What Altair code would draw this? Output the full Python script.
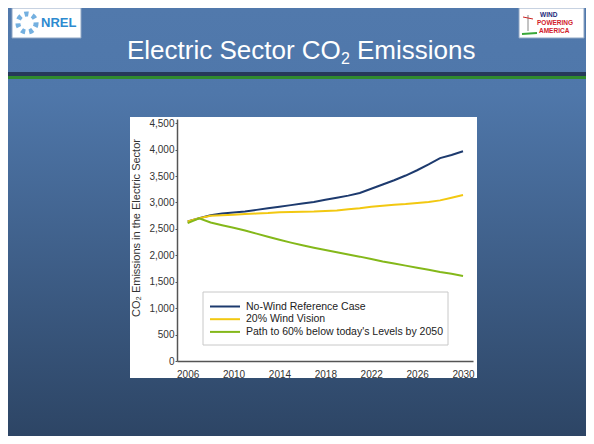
import altair as alt
import pandas as pd

# ---- data ----
years = list(range(2006, 2031))
no_wind = [2640, 2700, 2760, 2790, 2810, 2830, 2860, 2890, 2920, 2950, 2980, 3010,
           3050, 3090, 3130, 3180, 3260, 3340, 3420, 3510, 3610, 3720, 3840, 3900, 3970]
wind20 = [2640, 2700, 2750, 2760, 2770, 2780, 2790, 2800, 2815, 2820, 2825, 2830,
          2840, 2850, 2870, 2890, 2920, 2940, 2955, 2970, 2990, 3010, 3040, 3090, 3140]
path60 = [2610, 2700, 2620, 2570, 2520, 2470, 2410, 2350, 2295, 2240, 2190, 2145,
          2100, 2058, 2015, 1975, 1930, 1885, 1845, 1805, 1765, 1725, 1685, 1650, 1610]
series_names = ["No-Wind Reference Case", "20% Wind Vision",
                "Path to 60% below today's Levels by 2050"]
series_colors = ["#1d3a6e", "#f2c811", "#84b81a"]
x_ticks = [2006, 2010, 2014, 2018, 2022, 2026, 2030]
y_ticks = [0, 500, 1000, 1500, 2000, 2500, 3000, 3500, 4000, 4500]

rows = []
for name, vals in zip(series_names, [no_wind, wind20, path60]):
    for yr, v in zip(years, vals):
        rows.append({"year": yr, "value": v, "series": name})
df = pd.DataFrame(rows)

one = alt.Data(values=[{"k": 0}])
FONT = "Liberation Sans"

# plot area: page x 177..473, y 119..361 ; chart origin at page (8,8)
W, H = 296, 242
PL, PT, PR, PB = 169, 111, 113, 75


def rect(x, x2, y, y2, **kw):
    return alt.Chart(one).mark_rect(**kw).encode(
        x=alt.value(x), x2=alt.value(x2), y=alt.value(y), y2=alt.value(y2))


def rule(x, x2, y, y2, **kw):
    return alt.Chart(one).mark_rule(**kw).encode(
        x=alt.value(x), x2=alt.value(x2), y=alt.value(y), y2=alt.value(y2))


def text(x, y, s, **kw):
    return alt.Chart(one).mark_text(text=s, font=FONT, **kw).encode(
        x=alt.value(x), y=alt.value(y))


bg = rect(-PL, W + PR, -PT, H + PB, color=alt.Gradient(
    gradient="linear", x1=0, x2=0, y1=0, y2=1,
    stops=[alt.GradientStop(color="#5179ac", offset=0),
           alt.GradientStop(color="#4f77aa", offset=0.2),
           alt.GradientStop(color="#2d4565", offset=1)]))
band = rect(-PL, W + PR, -47, -43, color="#26395a")
green_band = rect(-PL, W + PR, -43, -40, color="#2f8a2e")

# slide title (CO2 with subscript)
title_parts = [
    text(-50, -60, "Electric Sector CO", fontSize=26, align="left",
         baseline="alphabetic", color="#ffffff"),
    text(164, -55, "2", fontSize=16, align="left",
         baseline="alphabetic", color="#ffffff"),
    text(180, -60, "Emissions", fontSize=26, align="left",
         baseline="alphabetic", color="#ffffff"),
]

# NREL logo
nrel_box = rect(-165, -96, -111, -81, color="#ffffff", stroke="#8fa6c4", strokeWidth=1)
nrel_ring = alt.Chart(one).mark_point(shape="circle", size=330, filled=False,
                                      stroke="#3a8fd3", strokeWidth=5,
                                      strokeDash=[4, 4]).encode(
    x=alt.value(-150), y=alt.value(-96))
nrel_text = text(-136, -96, "NREL", fontSize=13, fontWeight="bold", align="left",
                 baseline="middle", color="#2d8ad0")

# Wind Powering America logo
wpa_box = rect(342, 407, -111, -81, color="#ffffff", stroke="#8fa6c4", strokeWidth=1)
wpa_tower = rule(351, 351, -104, -88, color="#888888", strokeWidth=1)
wpa_blade = rule(346, 356, -102, -100, color="#cc2222", strokeWidth=1)
wpa_green = rule(345, 360, -85, -86, color="#3aa83a", strokeWidth=2)
wpa_t1 = text(363, -104, "WIND", fontSize=6.5, fontWeight="bold", align="left",
              baseline="middle", color="#1c2a7a")
wpa_t2 = text(360, -96, "POWERING", fontSize=6.5, fontWeight="bold", align="left",
              baseline="middle", color="#d2202a")
wpa_t3 = text(362, -88, "AMERICA", fontSize=6.5, fontWeight="bold", align="left",
              baseline="middle", color="#d2202a")

# white chart image
white = rect(-47, 300, -2, 259, color="#ffffff")

lines = alt.Chart(df).mark_line(strokeWidth=2).encode(
    x=alt.X("year:Q", scale=alt.Scale(domain=[2005.07, 2030.87], nice=False, zero=False),
            axis=alt.Axis(values=x_ticks, format="d", grid=False, ticks=False,
                          domainColor="#555555", domainWidth=1.5, labelFont=FONT,
                          labelFontSize=10, labelColor="#333333", labelPadding=8,
                          labelFlush=False, title=None, zindex=1)),
    y=alt.Y("value:Q", scale=alt.Scale(domain=[0, 4580], nice=False),
            axis=alt.Axis(values=y_ticks, format=",.0f", grid=False, tickSize=2,
                          tickColor="#555555", domainColor="#555555", domainWidth=1.5,
                          labelFont=FONT, labelFontSize=10, labelColor="#333333",
                          labelPadding=1, title=None, zindex=1)),
    color=alt.Color("series:N", scale=alt.Scale(domain=series_names, range=series_colors),
                    legend=None),
    detail="series:N",
)

ytitle = text(-40, 109, "CO\u2082 Emissions in the Electric Sector", fontSize=11,
              angle=270, align="center", baseline="middle", color="#333333")

# legend
legend_layers = [rect(26, 271, 173, 226, color="#ffffff", stroke="#c8c8c8", strokeWidth=1)]
for i, (name, col) in enumerate(zip(series_names, series_colors)):
    yy = 187.5 + 12.7 * i
    legend_layers.append(rule(33, 63, yy, yy, color=col, strokeWidth=2))
    legend_layers.append(text(69, yy, name, fontSize=10.5, align="left",
                              baseline="middle", color="#222222"))

chart = alt.layer(
    bg, band, green_band, *title_parts,
    nrel_box, nrel_ring, nrel_text,
    wpa_box, wpa_tower, wpa_blade, wpa_green, wpa_t1, wpa_t2, wpa_t3,
    white, lines, ytitle, *legend_layers,
).properties(
    width=W, height=H,
    autosize=alt.AutoSizeParams(type="none"),
    padding={"left": PL, "top": PT, "right": PR, "bottom": PB},
).configure_view(strokeWidth=0)

chart.save("out.html", embed_options={"renderer": "svg", "actions": False})
